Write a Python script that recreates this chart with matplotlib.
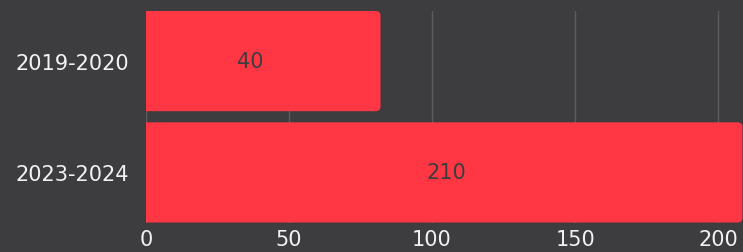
import matplotlib.pyplot as plt
from matplotlib.path import Path
from matplotlib.patches import PathPatch

# data
periods = ["2019-2020", "2023-2024"]
bar_lengths = [82, 208.5]      # length as drawn on the axis
bar_labels = ["40", "210"]     # text printed inside each bar
label_pos = [36.5, 105]        # where the printed text sits on the x axis
x_ticks = [0, 50, 100, 150, 200]

bg = "#3d3d3f"
red = "#ff3745"

fig = plt.figure(figsize=(7.43, 2.53), dpi=100, facecolor=bg)
ax = fig.add_axes([146 / 743, 29.5 / 253, 597 / 743, 211.5 / 253])
ax.set_facecolor(bg)

ypos = list(range(len(periods)))
bars = ax.barh(ypos, bar_lengths, height=0.9, color="none", zorder=2)

# bars with only the right end rounded (~5px radius)
rx, ry = 1.75, 0.045
for b in bars:
    x0, y0 = b.get_x(), b.get_y()
    x1, y1 = x0 + b.get_width(), y0 + b.get_height()
    verts = [(x0, y0), (x1 - rx, y0), (x1, y0), (x1, y0 + ry),
             (x1, y1 - ry), (x1, y1), (x1 - rx, y1), (x0, y1), (x0, y0)]
    codes = [Path.MOVETO, Path.LINETO, Path.CURVE3, Path.CURVE3,
             Path.LINETO, Path.CURVE3, Path.CURVE3, Path.LINETO, Path.CLOSEPOLY]
    ax.add_patch(PathPatch(Path(verts, codes), fc=red, ec="none", zorder=2))

for yp, txt, xp in zip(ypos, bar_labels, label_pos):
    ax.text(xp, yp, txt, ha="center", va="center", fontsize=15, color=bg, zorder=3)

ax.set_xlim(0, 208.7)
ax.set_ylim(1.45, -0.45)
ax.set_xticks(x_ticks)
ax.set_yticks(ypos)
ax.set_yticklabels(periods)
ax.tick_params(axis="both", length=0, colors="#f2f2f2", labelsize=15)
ax.tick_params(axis="y", pad=12)
ax.tick_params(axis="x", pad=5)
ax.grid(axis="x", color="#5c5c5e", linewidth=1, zorder=1)
ax.set_axisbelow(True)
for s in ax.spines.values():
    s.set_visible(False)

plt.savefig("out.png", dpi=100, facecolor=bg)
